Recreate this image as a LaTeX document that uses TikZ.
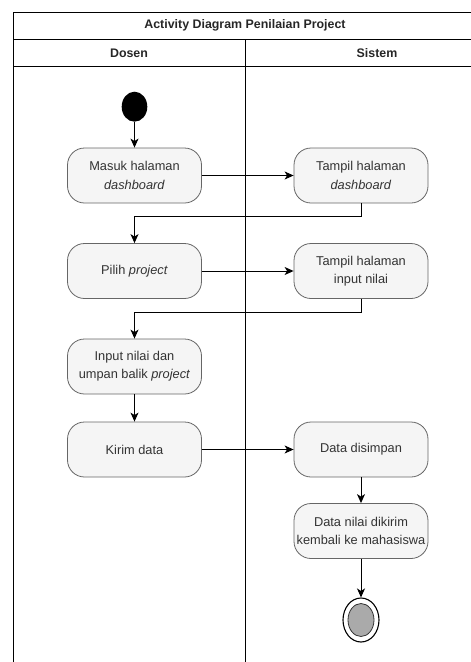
\documentclass[tikz,border=0pt]{standalone}
\usepackage{fontspec}
\setmainfont{Liberation Sans}
\usetikzlibrary{arrows.meta,shapes.geometric}
\definecolor{actfill}{HTML}{F5F5F5}
\definecolor{actline}{HTML}{666666}
\definecolor{acttext}{HTML}{333333}
\definecolor{endfill}{HTML}{AAAAAA}
\begin{document}
\begin{tikzpicture}[x=1pt,y=-1pt,
  lane/.style={draw=black,line width=1pt},
  action/.style={draw=actline,fill=actfill,line width=0.8pt,rounded corners=17pt,
    minimum width=134pt,minimum height=55pt,inner sep=0pt,align=center,
    text=acttext,font=\fontsize{12.8}{18.3}\selectfont},
  head/.style={font=\fontsize{12.4}{15}\selectfont\bfseries,text=black!85,inner sep=0pt},
  flow/.style={draw=black,line width=1pt,-{Stealth[length=9pt,width=8pt,inset=2.5pt]}},
  startnode/.style={ellipse,fill=black,minimum width=25.6pt,minimum height=30pt,inner sep=0pt},
  endnode/.style={ellipse,draw=black,fill=white,line width=1.1pt,minimum width=36pt,minimum height=44pt,inner sep=0pt},
  endcore/.style={ellipse,draw=acttext,fill=endfill,line width=0.8pt,minimum width=26pt,minimum height=33pt,inner sep=0pt}]
\useasboundingbox (0,0) rectangle (471,662);
\clip (0,0) rectangle (471,662);

% swimlane frame
\draw[lane] (13,670) -- (13,12) -- (480,12);
\draw[lane] (13,39) -- (480,39);
\draw[lane] (13,66) -- (480,66);
\draw[lane] (245,39) -- (245,670);
\node[head] (title) at (245,25.5) {Activity Diagram Penilaian Project};
\node[head] (dosen) at (129,52.8) {Dosen};
\node[head] (sistem) at (377,52.8) {Sistem};

% activities
\node[startnode] (start) at (134.5,106.7) {};
\node[action] (n1) at (134.5,175.5) {Masuk halaman\\\textit{dashboard}};
\node[action] (s1) at (361,175.5) {Tampil halaman\\\textit{dashboard}};
\node[action] (n2) at (134.5,271) {Pilih \textit{project}};
\node[action] (s2) at (361,271) {Tampil halaman\\input nilai};
\node[action] (n3) at (134.5,366.5) {Input nilai dan\\umpan balik \textit{project}};
\node[action] (n4) at (134.5,449.5) {Kirim data};
\node[action] (s3) at (361,449.5) {Data disimpan};
\node[action] (s4) at (361,531) {Data nilai dikirim\\kembali ke mahasiswa};
\node[endnode] (end) at (361,620) {};
\node[endcore] (endin) at (end.center) {};

% control flow
\draw[flow] (start) -- (n1);
\draw[flow] (n1.east) -- (s1.west);
\draw[flow] (s1.south) -- ++(0,13) -| (n2.north);
\draw[flow] (n2.east) -- (s2.west);
\draw[flow] (s2.south) -- ++(0,14) -| (n3.north);
\draw[flow] (n3.south) -- (n4.north);
\draw[flow] (n4.east) -- (s3.west);
\draw[flow] (s3.south) -- (s4.north);
\draw[flow] (s4.south) -- (end.north);
\end{tikzpicture}
\end{document}
